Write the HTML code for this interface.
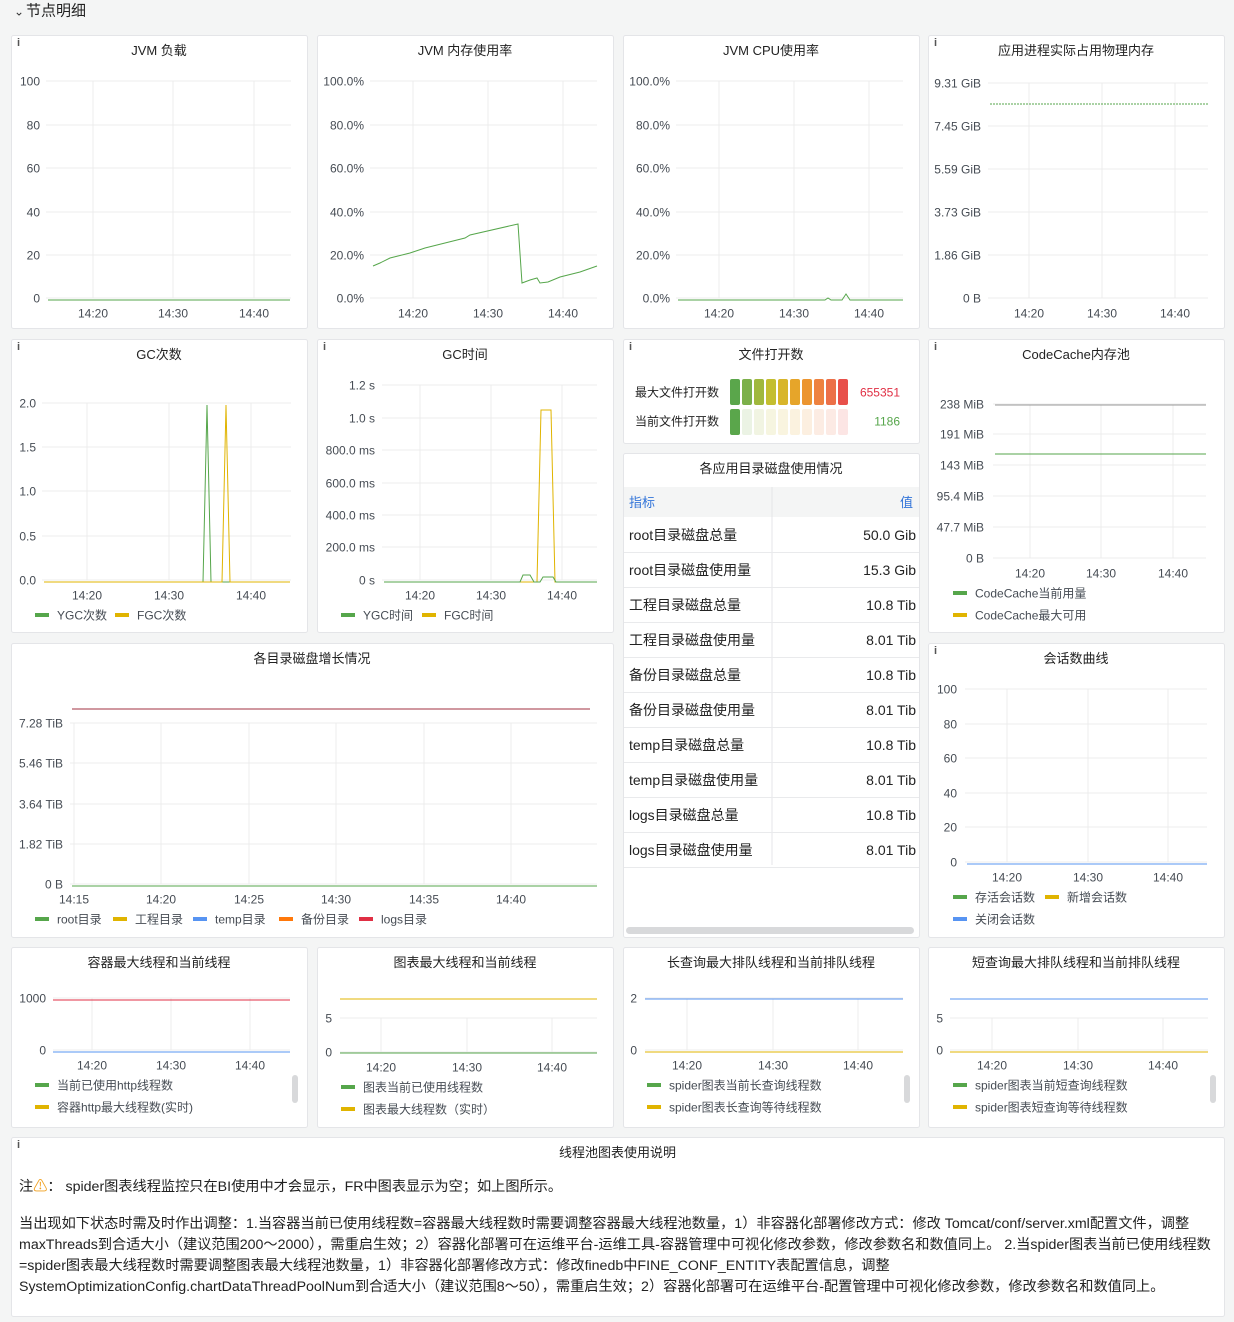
<!DOCTYPE html>
<html><head><meta charset="utf-8">
<style>
html,body{margin:0;padding:0;background:#f4f5f5;}
body{width:1234px;height:1322px;overflow:hidden;position:relative;font-family:"Liberation Sans","Noto Sans CJK SC",sans-serif;}
svg{position:absolute;left:0;top:0;}
svg text{font-family:"Liberation Sans","Noto Sans CJK SC",sans-serif;}
.note{position:absolute;left:19px;width:1205px;font-size:14.2px;color:#222;white-space:nowrap;line-height:21px;}
</style></head><body>
<svg id="s" width="1234" height="1322" xmlns="http://www.w3.org/2000/svg"></svg>
<div class="note" style="top:1177px">注<span style="color:#f0a020">⚠</span>： spider图表线程监控只在BI使用中才会显示，FR中图表显示为空；如上图所示。</div>
<div class="note" style="top:1214px">当出现如下状态时需及时作出调整：1.当容器当前已使用线程数=容器最大线程数时需要调整容器最大线程池数量，1）非容器化部署修改方式：修改 Tomcat/conf/server.xml配置文件，调整<br>maxThreads到合适大小（建议范围200～2000），需重启生效；2）容器化部署可在运维平台-运维工具-容器管理中可视化修改参数，修改参数名和数值同上。 2.当spider图表当前已使用线程数<br>=spider图表最大线程数时需要调整图表最大线程池数量，1）非容器化部署修改方式：修改finedb中FINE_CONF_ENTITY表配置信息，调整<br>SystemOptimizationConfig.chartDataThreadPoolNum到合适大小（建议范围8～50），需重启生效；2）容器化部署可在运维平台-配置管理中可视化修改参数，修改参数名和数值同上。</div>
<script>
const s=document.getElementById('s');let h='';
const G='#56a64b',Y='#e0b400',B='#5794f2',R='#e02f44',O='#ff780a',T='#464c54';
function t(x,y,str,o={}){h+=`<text x="${x}" y="${y+1.5}" font-size="${o.fs||12}" fill="${o.c||T}" text-anchor="${o.a||'start'}" dominant-baseline="middle">${str}</text>`;}
function l(x1,y1,x2,y2,c,w=1,d=''){h+=`<line x1="${x1}" y1="${y1}" x2="${x2}" y2="${y2}" stroke="${c}" stroke-width="${w}" ${d?`stroke-dasharray="${d}"`:''}/>`;}
function pl(pts,c){h+=`<polyline points="${pts}" fill="none" stroke="${c}" stroke-width="1"/>`;}
function panel(x,y,w,hh,title,info=true){h+=`<rect x="${x+0.5}" y="${y+0.5}" width="${w}" height="${hh}" fill="#fff" stroke="#e4e5e8" rx="2"/>`;
 if(title)t(x+w/2,y+15,title,{a:'middle',fs:13,c:'#222'});
 if(info)h+=`<text x="${x+6}" y="${y+11}" font-size="11" font-weight="bold" fill="#555" font-family="Liberation Serif">i</text>`;}
function chart(gx0,gx1,yt,lr,xt,xy){yt.forEach(([s,y])=>{l(gx0,y,gx1,y,'#ececec');t(lr,y,s,{a:'end'});});
 const top=yt[0][1],bot=yt[yt.length-1][1];xt.forEach(([s,x])=>{l(x,top,x,bot,'#ececec');t(x,xy,s,{a:'middle'});});}
function leg(x,y,c,s){l(x,y,x+14,y,c,4);t(x+22,y,s);}
t(14,11,'⌄',{fs:12,c:'#333'});t(26,10,'节点明细',{fs:15,c:'#222'});
panel(11,35,296,293,'JVM 负载');
chart(46,291,[['100',81],['80',125],['60',168],['40',212],['20',255],['0',298]],40,[['14:20',93],['14:30',173],['14:40',254]],313);
l(48,300,290,300,G);
panel(317,35,296,293,'JVM 内存使用率',false);
chart(370,597,[['100.0%',81],['80.0%',125],['60.0%',168],['40.0%',212],['20.0%',255],['0.0%',298]],364,[['14:20',413],['14:30',488],['14:40',563]],313);
pl('373,266 380,263 390,258 410,253 425,248 445,243 465,238 470,235 518,224 522,283 530,280 537,278 540,283 548,282 560,277 580,272 597,266',G);
panel(623,35,296,293,'JVM CPU使用率',false);
chart(676,903,[['100.0%',81],['80.0%',125],['60.0%',168],['40.0%',212],['20.0%',255],['0.0%',298]],670,[['14:20',719],['14:30',794],['14:40',869]],313);
pl('678,300 825,300 828,298 831,300 842,300 846,294 850,300 903,300',G);
panel(928,35,296,293,'应用进程实际占用物理内存');
chart(988,1208,[['9.31 GiB',83],['7.45 GiB',126],['5.59 GiB',169],['3.73 GiB',212],['1.86 GiB',255],['0 B',298]],981,[['14:20',1029],['14:30',1102],['14:40',1175]],313);
l(990,104,1208,104,G,1,'2,1');
panel(11,339,296,293,'GC次数');
chart(42,291,[['2.0',403],['1.5',447],['1.0',491],['0.5',536],['0.0',580]],36,[['14:20',87],['14:30',169],['14:40',251]],595);
pl('44,582 203,582 207,405 211,582 290,582',G);pl('44,582 222,582 226,405 230,582 290,582',Y);
leg(35,615,G,'YGC次数');leg(115,615,Y,'FGC次数');
panel(317,339,296,293,'GC时间');
chart(382,597,[['1.2 s',385],['1.0 s',418],['800.0 ms',450],['600.0 ms',483],['400.0 ms',515],['200.0 ms',547],['0 s',580]],375,[['14:20',420],['14:30',491],['14:40',562]],595);
pl('384,582 537,582 541,410 551,410 555,582 597,582',Y);pl('384,582 520,582 523,575 530,575 534,582 540,582 543,577 553,577 556,582 597,582',G);
leg(341,615,G,'YGC时间');leg(422,615,Y,'FGC时间');
panel(623,339,296,104,'文件打开数');
t(635,392,'最大文件打开数',{c:'#222'});t(635,421,'当前文件打开数',{c:'#222'});
const bc=['#5aa64b','#7cb04a','#a0b83d','#c4be30','#d8b52a','#e6a52a','#ec9530','#ee8240','#ec7048','#e8504a'];
bc.forEach((c,i)=>{const x=730+i*12;h+=`<rect x="${x}" y="379" width="10" height="26" rx="2" fill="${c}"/>`;h+=`<rect x="${x}" y="409" width="10" height="26" rx="2" fill="${c}" opacity="${i==0?1:0.15}"/>`;});
t(900,392,'655351',{a:'end',c:R});t(900,421,'1186',{a:'end',c:G});
panel(623,453,296,484,'各应用目录磁盘使用情况',false);
h+=`<rect x="624" y="487" width="295" height="30" fill="#f4f5f5"/>`;l(772,487,772,865,'#e4e5e8');
t(629,502,'指标',{c:'#3274d9',fs:13});t(913,502,'值',{c:'#3274d9',fs:13,a:'end'});
const rows=[['root目录磁盘总量','50.0 Gib'],['root目录磁盘使用量','15.3 Gib'],['工程目录磁盘总量','10.8 Tib'],['工程目录磁盘使用量','8.01 Tib'],['备份目录磁盘总量','10.8 Tib'],['备份目录磁盘使用量','8.01 Tib'],['temp目录磁盘总量','10.8 Tib'],['temp目录磁盘使用量','8.01 Tib'],['logs目录磁盘总量','10.8 Tib'],['logs目录磁盘使用量','8.01 Tib']];
rows.forEach(([a,b],i)=>{const y=535+i*35;t(629,y,a,{fs:14,c:'#222'});t(916,y,b,{fs:14,c:'#222',a:'end'});l(624,y+17.5,919,y+17.5,'#e9eaec');});
h+=`<rect x="626" y="927" width="288" height="7" rx="3.5" fill="#d8d9db"/>`;
panel(928,339,296,293,'CodeCache内存池');
chart(993,1206,[['238 MiB',404],['191 MiB',434],['143 MiB',465],['95.4 MiB',496],['47.7 MiB',527],['0 B',558]],984,[['14:20',1030],['14:30',1101],['14:40',1173]],573);
l(995,405,1206,405,'#999');l(995,454,1206,454,G);
leg(953,593,G,'CodeCache当前用量');leg(953,615,Y,'CodeCache最大可用');
panel(11,643,602,294,'各目录磁盘增长情况',false);
chart(70,597,[['7.28 TiB',723],['5.46 TiB',763],['3.64 TiB',804],['1.82 TiB',844],['0 B',884]],63,[['14:15',74],['14:20',161],['14:25',249],['14:30',336],['14:35',424],['14:40',511]],899);
l(72,709,590,709,'#a03040');l(72,886,597,886,G);
leg(35,919,G,'root目录');leg(113,919,Y,'工程目录');leg(193,919,B,'temp目录');leg(279,919,O,'备份目录');leg(359,919,R,'logs目录');
panel(928,643,296,294,'会话数曲线');
chart(965,1207,[['100',689],['80',724],['60',758],['40',793],['20',827],['0',862]],957,[['14:20',1007],['14:30',1088],['14:40',1168]],877);
l(967,864,1207,864,B);
leg(953,897,G,'存活会话数');leg(1045,897,Y,'新增会话数');leg(953,919,B,'关闭会话数');
function r4(x,title,yt,lr,gx0,gx1,xt,xy,top,topc,botc,botY,l1,l2,ly,lx,sb){panel(x,947,296,180,title,false);
 chart(gx0,gx1,yt,lr,xt,xy);l(gx0,top,gx1,top,topc);l(gx0,botY,gx1,botY,botc);leg(lx,ly,G,l1);leg(lx,ly+22,Y,l2);
 if(sb)h+=`<rect x="${sb}" y="1075" width="6" height="28" rx="3" fill="#d8d9db"/>`;}
r4(11,'容器最大线程和当前线程',[['1000',998],['0',1050]],46,53,290,[['14:20',92],['14:30',171],['14:40',250]],1065,1000,R,B,1052,'当前已使用http线程数','容器http最大线程数(实时)',1085,35,292);
r4(317,'图表最大线程和当前线程',[['5',1018],['0',1052]],332,340,597,[['14:20',381],['14:30',467],['14:40',552]],1067,999,Y,G,1053,'图表当前已使用线程数','图表最大线程数（实时）',1087,341,0);
r4(623,'长查询最大排队线程和当前排队线程',[['2',998],['0',1050]],637,645,903,[['14:20',687],['14:30',773],['14:40',858]],1065,999,B,Y,1052,'spider图表当前长查询线程数','spider图表长查询等待线程数',1085,647,904);
r4(928,'短查询最大排队线程和当前排队线程',[['5',1018],['0',1050]],943,950,1208,[['14:20',992],['14:30',1078],['14:40',1163]],1065,999,B,Y,1052,'spider图表当前短查询线程数','spider图表短查询等待线程数',1085,953,1210);
panel(11,1137,1213,179,'线程池图表使用说明');
s.innerHTML=h;
</script>
</body></html>
